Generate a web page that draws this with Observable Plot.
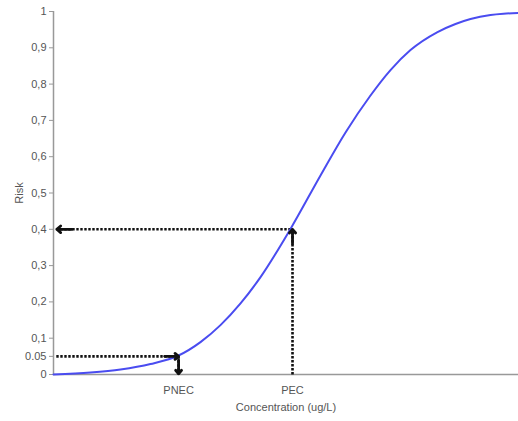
<!DOCTYPE html>
<html>
<head>
<meta charset="utf-8">
<script src="https://cdn.jsdelivr.net/npm/d3@7"></script>
<script src="https://cdn.jsdelivr.net/npm/@observablehq/plot@0.6"></script>
<style>
  html, body { margin: 0; padding: 0; background: #fff; }
  #chart svg { display: block; }
</style>
</head>
<body>
<div id="chart"></div>
<script>
// Concentration (arbitrary units, 0–100) and risk
const conc = [0, 7.96, 14.41, 20.86, 26.88, 31.61, 35.91, 40.22, 44.52, 50.97, 57.42, 62.80, 68.17, 72.47, 76.77, 82.58, 86.45, 89.68, 93.98, 96.77, 100];
const risk = [0, 0.0055, 0.0138, 0.0289, 0.0523, 0.0893, 0.1361, 0.1959, 0.2683, 0.4011, 0.5482, 0.6667, 0.7686, 0.8386, 0.8937, 0.9433, 0.9656, 0.9793, 0.9904, 0.9939, 0.9959];

const yTicks = [0, 0.05, 0.1, 0.2, 0.3, 0.4, 0.5, 0.6, 0.7, 0.8, 0.9, 1];
const yTickLabels = ["0", "0.05", "0,1", "0,2", "0,3", "0,4", "0,5", "0,6", "0,7", "0,8", "0,9", "1"];

const markerNames = ["PNEC", "PEC"];
const markerConc = [26.9, 51.4];
const markerRisk = [0.05, 0.4];

const curve = conc.map((c, i) => ({c, r: risk[i]}));
const markers = markerNames.map((n, i) => ({name: n, c: markerConc[i], r: markerRisk[i]}));
const pnec = markers[0], pec = markers[1];

const dot = {stroke: "#111", strokeWidth: 2.6, strokeDasharray: "2.4,1.6"};
const head = {stroke: "#111", strokeWidth: 2.8, headLength: 12, headAngle: 80, bend: 0};

const chart = Plot.plot({
  width: 518,
  height: 421,
  marginLeft: 53,
  marginRight: 0,
  marginTop: 11,
  marginBottom: 47,
  style: {fontFamily: "'Liberation Sans', Arial, sans-serif", fontSize: "11px", color: "#555"},
  x: {domain: [0, 100]},
  y: {domain: [0, 1]},
  marks: [
    Plot.axisY({ticks: yTicks, tickSize: 4, tickPadding: 3, stroke: "#999",
      tickFormat: d => yTickLabels[yTicks.indexOf(d)], label: "Risk", labelAnchor: "center",
      labelOffset: 38, labelArrow: "none", fill: "#555"}),
    Plot.axisX({ticks: markerConc, tickSize: 0, tickPadding: 12,
      tickFormat: d => markerNames[markerConc.indexOf(d)], label: "Concentration (ug/L)",
      labelAnchor: "center", labelOffset: 36, labelArrow: "none", fill: "#555"}),
    Plot.ruleX([0], {stroke: "#999", strokeWidth: 1.5}),
    Plot.ruleY([0], {stroke: "#999", strokeWidth: 1.5}),
    // dotted guides
    Plot.link(markers, {x1: 0.6, y1: "r", x2: "c", y2: "r", ...dot}),
    Plot.link([pnec], {x1: "c", y1: "r", x2: "c", y2: 0, ...dot}),
    Plot.link([pec], {x1: "c", y1: 0, x2: "c", y2: "r", ...dot}),
    Plot.line(curve, {x: "c", y: "r", stroke: "#4a4cf0", strokeWidth: 2, curve: "monotone-x"}),
    // arrowheads
    Plot.arrow([pec], {x1: 4, y1: "r", x2: 0.7, y2: "r", ...head}),
    Plot.arrow([pnec], {x1: d => d.c - 3, y1: "r", x2: "c", y2: "r", ...head}),
    Plot.arrow([pnec], {x1: "c", y1: 0.04, x2: "c", y2: 0.002, ...head}),
    Plot.arrow([pec], {x1: "c", y1: 0.36, x2: "c", y2: d => d.r, ...head})
  ]
});
document.getElementById("chart").append(chart);
</script>
</body>
</html>
